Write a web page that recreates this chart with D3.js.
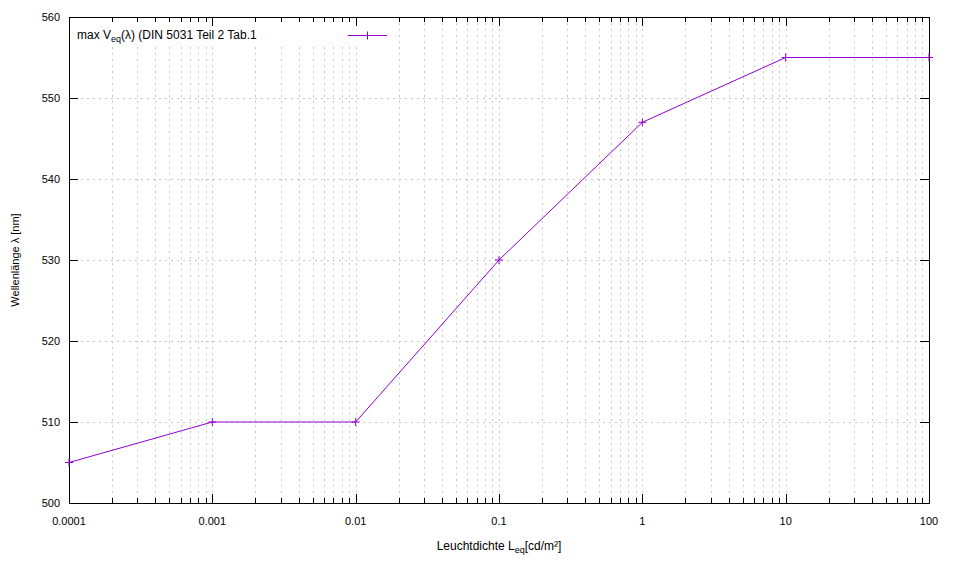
<!DOCTYPE html>
<meta charset="utf-8">
<script src="https://d3js.org/d3.v7.min.js"></script>
<style>
  body { margin: 0; background: #fff; }
  text { font-family: "Liberation Sans", Arial, sans-serif; font-size: 11px; fill: #000; }
</style>
<body>
<script>
// data
var luminance = [0.0001, 0.001, 0.01, 0.1, 1, 10, 100];
var wavelength = [505, 510, 510, 530, 547, 555, 555];
var xTicks = [0.0001, 0.001, 0.01, 0.1, 1, 10, 100];
var xTickLabels = ["0.0001", "0.001", "0.01", "0.1", "1", "10", "100"];
var yTicks = [500, 510, 520, 530, 540, 550, 560];

var margin = {top: 17, right: 31, bottom: 73, left: 69},
    width = 960 - margin.left - margin.right,
    height = 576 - margin.top - margin.bottom;

var svg = d3.select("body").append("svg")
    .attr("width", 960)
    .attr("height", 576)
  .append("g")
    .attr("transform", "translate(" + margin.left + "," + margin.top + ")");

var x = d3.scaleLog().domain([0.0001, 100]).range([0, width]);
var y = d3.scaleLinear().domain([500, 560]).range([height, 0]);

// minor ticks 2..9 in every decade
var minor = [];
xTicks.slice(0, -1).forEach(function(d) {
  for (var k = 2; k <= 9; k++) minor.push(d * k);
});

// grid
var grid = svg.append("g").attr("stroke", "#c8c8c8").attr("stroke-dasharray", "2,4").attr("stroke-width", 1);
grid.selectAll(".gx").data(xTicks.concat(minor)).enter().append("line")
    .attr("x1", function(d) { return Math.round(x(d)) + 0.5; })
    .attr("x2", function(d) { return Math.round(x(d)) + 0.5; })
    .attr("y1", 0).attr("y2", height);
grid.selectAll(".gy").data(yTicks).enter().append("line")
    .attr("x1", 0).attr("x2", width)
    .attr("y1", function(d) { return Math.round(y(d)) + 0.5; })
    .attr("y2", function(d) { return Math.round(y(d)) + 0.5; });

// opaque key box
svg.append("rect").attr("x", 1).attr("y", 1).attr("width", 320).attr("height", 27).attr("fill", "#fff");

// ticks (inside) on all four sides
var tk = svg.append("g").attr("stroke", "#000").attr("stroke-width", 1);
function vt(d, len) {
  var px = Math.round(x(d)) + 0.5;
  tk.append("line").attr("x1", px).attr("x2", px).attr("y1", height).attr("y2", height - len);
  tk.append("line").attr("x1", px).attr("x2", px).attr("y1", 0).attr("y2", len);
}
xTicks.forEach(function(d) { vt(d, 9); });
minor.forEach(function(d) { vt(d, 5); });
yTicks.forEach(function(d) {
  var py = Math.round(y(d)) + 0.5;
  tk.append("line").attr("x1", 0).attr("x2", 9).attr("y1", py).attr("y2", py);
  tk.append("line").attr("x1", width).attr("x2", width - 9).attr("y1", py).attr("y2", py);
});

// border
svg.append("rect").attr("x", 0.5).attr("y", 0.5).attr("width", width).attr("height", height)
    .attr("fill", "none").attr("stroke", "#000").attr("stroke-width", 1);

// tick labels
svg.selectAll(".xl").data(xTicks).enter().append("text")
    .attr("x", function(d) { return x(d); })
    .attr("y", height + 22)
    .attr("text-anchor", "middle")
    .text(function(d, i) { return xTickLabels[i]; });
svg.selectAll(".yl").data(yTicks).enter().append("text")
    .attr("x", -9)
    .attr("y", function(d) { return y(d) + 4; })
    .attr("text-anchor", "end")
    .text(function(d) { return d; });

// axis titles
var xt = svg.append("text").attr("x", width / 2).attr("y", height + 47)
    .attr("text-anchor", "middle").style("font-size", "12px");
xt.append("tspan").text("Leuchtdichte L");
xt.append("tspan").style("font-size", "9px").attr("dy", 3).text("eq");
xt.append("tspan").attr("dy", -3).text("[cd/m²]");

svg.append("text")
    .attr("transform", "translate(" + (-50) + "," + (height / 2) + ") rotate(-90)")
    .attr("text-anchor", "middle")
    .text("Wellenlänge λ [nm]");

// data line
var color = "#9400d3";
var pts = luminance.map(function(d, i) { return [d, wavelength[i]]; });
svg.append("path").datum(pts)
    .attr("fill", "none").attr("stroke", color).attr("stroke-width", 1)
    .attr("d", d3.line().x(function(d) { return x(d[0]); }).y(function(d) { return y(d[1]); }));

function plus(g, cx, cy) {
  g.append("line").attr("x1", cx - 4).attr("x2", cx + 4).attr("y1", cy).attr("y2", cy);
  g.append("line").attr("x1", cx).attr("x2", cx).attr("y1", cy - 4).attr("y2", cy + 4);
}
var marks = svg.append("g").attr("stroke", color).attr("stroke-width", 1);
pts.forEach(function(d) { plus(marks, x(d[0]), y(d[1])); });

// legend
var lg = svg.append("text").attr("x", 8).attr("y", 22).style("font-size", "12px");
lg.append("tspan").text("max V");
lg.append("tspan").style("font-size", "9px").attr("dy", 3).text("eq");
lg.append("tspan").attr("dy", -3).text("(λ) (DIN 5031 Teil 2 Tab.1");
var lk = svg.append("g").attr("stroke", color).attr("stroke-width", 1);
lk.append("line").attr("x1", 279).attr("x2", 318).attr("y1", 18.5).attr("y2", 18.5);
plus(lk, 298.5, 18.5);
</script>
</body>
